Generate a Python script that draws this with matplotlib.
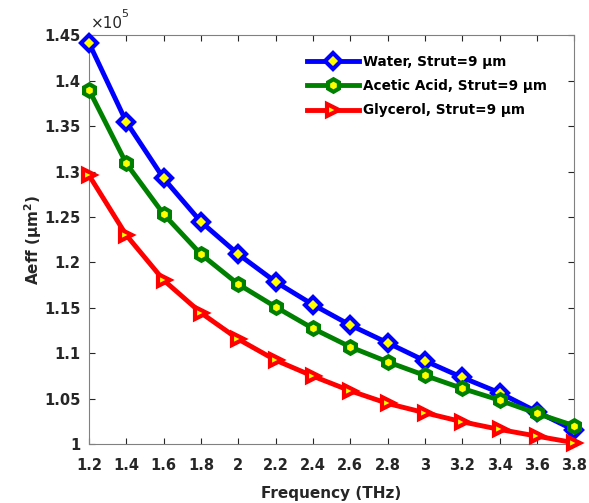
import matplotlib.pyplot as plt
from matplotlib.ticker import FuncFormatter

plt.rcParams['font.family'] = ['DejaVu Sans']
plt.rcParams['font.weight'] = 'bold'

# --- data ---
freq = [1.2, 1.4, 1.6, 1.8, 2.0, 2.2, 2.4, 2.6, 2.8, 3.0, 3.2, 3.4, 3.6, 3.8]
water = [1.4416, 1.3546, 1.2924, 1.2446, 1.209, 1.1786, 1.1535, 1.131, 1.1115, 1.0917, 1.0734, 1.0565, 1.0356, 1.0154]
acetic = [1.390, 1.3089, 1.2531, 1.209, 1.176, 1.151, 1.1273, 1.107, 1.0906, 1.0756, 1.0613, 1.0484, 1.0338, 1.0202]
glycerol = [1.296, 1.230, 1.1805, 1.1445, 1.1155, 1.0924, 1.0748, 1.0587, 1.0448, 1.0345, 1.0246, 1.0162, 1.0088, 1.0015]
labels = ["Water, Strut=9 \u00b5m", "Acetic Acid, Strut=9 \u00b5m", "Glycerol, Strut=9 \u00b5m"]
xticks = [1.2, 1.4, 1.6, 1.8, 2, 2.2, 2.4, 2.6, 2.8, 3, 3.2, 3.4, 3.6, 3.8]
yticks = [1.0, 1.05, 1.1, 1.15, 1.2, 1.25, 1.3, 1.35, 1.4, 1.45]

fig = plt.figure(figsize=(5.89, 5.03), dpi=100)
ax = fig.add_axes([0.151, 0.117, 0.824, 0.813])

series = [
    (water, 'blue', 'D', 8.5),
    (acetic, 'green', 'h', 9),
    (glycerol, 'red', '>', 9),
]
for vals, col, mk, ms in series:
    ax.plot(freq, [v * 1e5 for v in vals], color=col, lw=3.5, marker=mk,
            ms=ms, mfc='yellow', mec=col, mew=3, clip_on=False, zorder=3)

ax.set_xlim(1.2, 3.8)
ax.set_ylim(1.0e5, 1.45e5)
ax.set_xticks(xticks)
ax.set_xticklabels([f"{t:g}" for t in xticks])
ax.set_yticks([t * 1e5 for t in yticks])
ax.yaxis.set_major_formatter(FuncFormatter(lambda v, p: f"{v / 1e5:g}"))

ax.tick_params(direction='in', top=True, right=True, labelsize=10.5,
               colors='#262626', length=4, width=0.8)
ax.tick_params(axis='x', pad=10)
ax.tick_params(axis='y', pad=6)
for sp in ax.spines.values():
    sp.set_color('#808080')

# exponent label, MATLAB style
fig.text(0.155, 0.938, "\u00d710", fontsize=11, fontweight='normal',
         color='#262626', ha='left', va='bottom')
fig.text(0.206, 0.962, "5", fontsize=8, fontweight='normal',
         color='#262626', ha='left', va='bottom')

ax.set_xlabel("Frequency (THz)", fontsize=11, fontweight='bold', color='#262626',
              labelpad=9)
ax.set_ylabel("Aeff (\u00b5m$^2$)", fontsize=11, fontweight='bold', color='#262626',
              labelpad=0)

leg = ax.legend(labels, loc='upper left', bbox_to_anchor=(0.43, 0.975),
                frameon=True, fontsize=9.8, handlelength=3.8, labelspacing=0.75,
                borderaxespad=0.3, handletextpad=0.3)
leg.get_frame().set_edgecolor('white')
leg.get_frame().set_alpha(1)

fig.savefig("out.png", dpi=100)
